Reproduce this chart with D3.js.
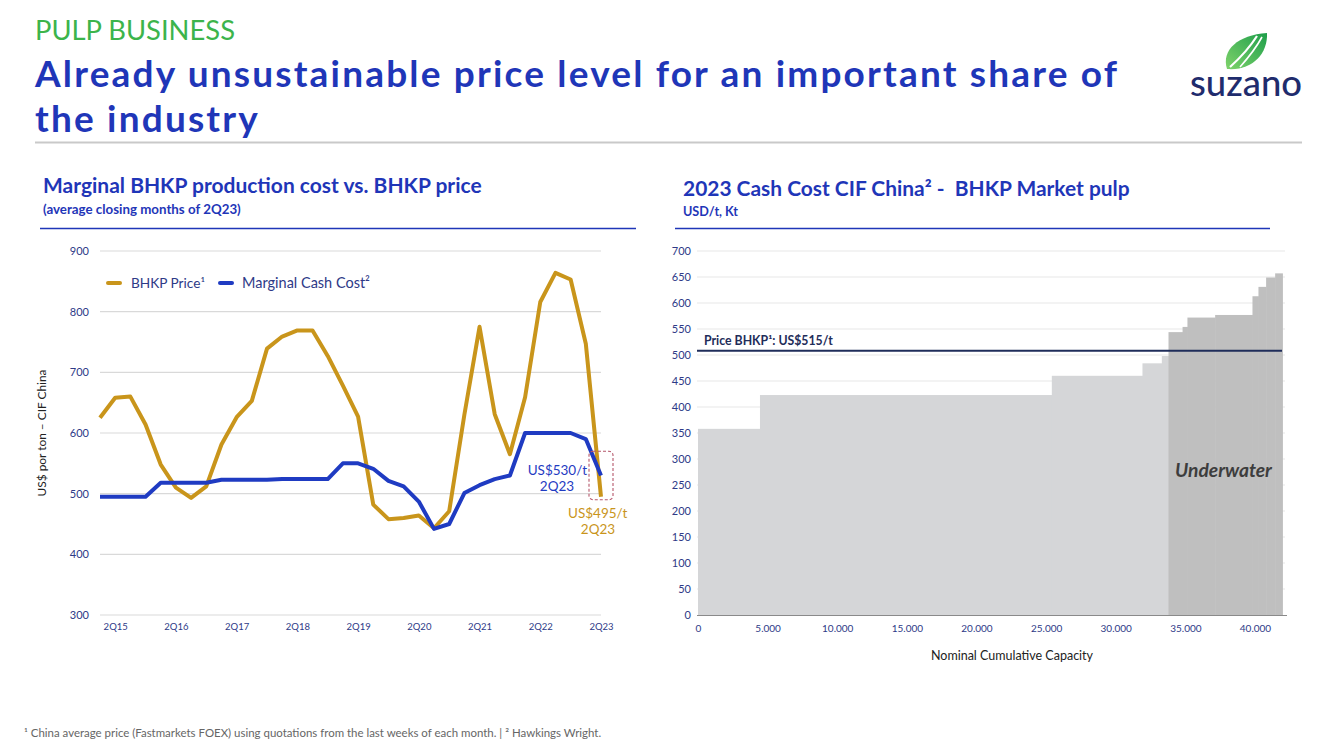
<!DOCTYPE html>
<html><head><meta charset="utf-8">
<script src="https://cdn.jsdelivr.net/npm/d3@7"></script>
<style>body{margin:0;background:#fff;} svg{display:block;font-family:Lato,"Open Sans",sans-serif;}</style>
</head><body><svg id="c" width="1333" height="749"></svg>
<script>
// ---------- DATA ----------
const quarters = ["1Q15","2Q15","3Q15","4Q15","1Q16","2Q16","3Q16","4Q16","1Q17","2Q17","3Q17","4Q17",
  "1Q18","2Q18","3Q18","4Q18","1Q19","2Q19","3Q19","4Q19","1Q20","2Q20","3Q20","4Q20",
  "1Q21","2Q21","3Q21","4Q21","1Q22","2Q22","3Q22","4Q22","1Q23","2Q23"];
const bhkpPrice = [625,658,660,614,548,510,493,512,581,626,653,739,759,769,769,727,678,627,
  482,458,460,464,443,471,630,775,631,565,659,816,864,853,747,495];
const marginalCashCost = [495,495,495,495,518,518,518,518,523,523,523,523,524,524,524,524,550,550,
  541,521,512,487,442,450,501,514,524,530,600,600,600,600,590,530];
const leftXTicks = ["2Q15","2Q16","2Q17","2Q18","2Q19","2Q20","2Q21","2Q22","2Q23"];
const leftYTicks = [300,400,500,600,700,800,900];

const capacityEnd = [4450,25410,31920,33310,33790,34800,35150,37140,39820,40250,40800,41450,41970];
const cashCost =    [358, 423,  460,  484,  498,  544,  554,  572,  577,  613,  631,  649,  657];
const priceBHKPLine = 508;
const rightYTicks = [0,50,100,150,200,250,300,350,400,450,500,550,600,650,700];
const rightXTicks = [0,5000,10000,15000,20000,25000,30000,35000,40000];

// ---------- COLORS ----------
const GOLD = "#c9951b", BLUE = "#1f3bc2", NAVY = "#2e3a87", TITLE = "#1f36b8";

const svg = d3.select("#c");
function fit(t, w){ const l = t.node().getComputedTextLength(); const fs = parseFloat(t.attr("font-size")); t.attr("font-size", fs*w/l); return t; }

// ---------- HEADER ----------
fit(svg.append("text").attr("x",35).attr("y",40).attr("font-size",24).attr("font-weight",400)
  .attr("fill","#3cb44b").text("PULP BUSINESS"),200);
const headLine1 = "Already unsustainable price level for an important share of";
const h1 = svg.append("text").attr("x",35).attr("y",87).attr("font-size",37).attr("font-weight",700)
  .attr("fill",TITLE).text(headLine1);
const ls = (1082 - h1.node().getComputedTextLength())/(headLine1.length-1);
h1.attr("letter-spacing",ls);
svg.append("text").attr("x",35).attr("y",132).attr("font-size",37).attr("font-weight",700)
  .attr("fill",TITLE).attr("letter-spacing",ls).text("the industry");
svg.append("line").attr("x1",35).attr("x2",1302).attr("y1",142.5).attr("y2",142.5)
  .attr("stroke","#c9c9c9").attr("stroke-width",2);

// logo
const defs = svg.append("defs");
const lg = defs.append("linearGradient").attr("id","leaf").attr("x1","0").attr("y1","1").attr("x2","1").attr("y2","0");
lg.append("stop").attr("offset","0").attr("stop-color","#7fd36b");
lg.append("stop").attr("offset","1").attr("stop-color","#1e9e4a");
svg.append("path").attr("d","M1227,69 C1221,50 1238,35 1267,33 C1268,54 1252,71 1227,69 Z").attr("fill","url(#leaf)");
svg.append("path").attr("d","M1230,67 C1240,58 1250,47 1257,36").attr("stroke","#fff").attr("stroke-width",2.2).attr("fill","none");
svg.append("path").attr("d","M1240,67 C1248,58 1256,48 1262,37").attr("stroke","#fff").attr("stroke-width",1.6).attr("fill","none");
fit(svg.append("text").attr("x",1190).attr("y",96).attr("font-size",28).attr("font-weight",500)
  .attr("fill","#1f2c6d").text("suzano"),112);

// ---------- LEFT CHART ----------
fit(svg.append("text").attr("x",43).attr("y",193).attr("font-size",18).attr("font-weight",700)
  .attr("fill",TITLE).text("Marginal BHKP production cost vs. BHKP price"),439);
fit(svg.append("text").attr("x",43).attr("y",214).attr("font-size",11).attr("font-weight",700)
  .attr("fill",TITLE).text("(average closing months of 2Q23)"),198);
svg.append("line").attr("x1",40).attr("x2",636).attr("y1",228.5).attr("y2",228.5).attr("stroke",TITLE).attr("stroke-width",1.5);

const xL = d3.scalePoint(quarters,[100,601]);
const yL = d3.scaleLinear([300,900],[615,251]);

const gL = svg.append("g");
gL.selectAll(".gl").data(leftYTicks).join("line")
  .attr("x1",100).attr("x2",601).attr("y1",d=>yL(d)).attr("y2",d=>yL(d))
  .attr("stroke","#d9d9d9").attr("stroke-width",1.2);
const axL = svg.append("g").attr("transform","translate(100,0)")
  .call(d3.axisLeft(yL).tickValues(leftYTicks).tickSize(0).tickPadding(11));
axL.select(".domain").remove();
axL.selectAll("text").attr("font-size",11).attr("fill",NAVY).attr("font-family","Lato");
const axLB = svg.append("g").attr("transform","translate(0,615)")
  .call(d3.axisBottom(xL).tickValues(leftXTicks).tickSize(0).tickPadding(8));
axLB.select(".domain").remove();
axLB.selectAll("text").attr("font-size",9.5).attr("fill",NAVY).attr("font-family","Lato");

fit(svg.append("text").attr("transform","translate(46,433) rotate(-90)").attr("text-anchor","middle")
  .attr("font-size",12).attr("fill","#222").text("US$ por ton – CIF China"),127);

const line = d3.line().x((d,i)=>xL(quarters[i])).y(d=>yL(d));
gL.append("path").datum(bhkpPrice).attr("d",line).attr("fill","none").attr("stroke",GOLD)
  .attr("stroke-width",4).attr("stroke-linejoin","round");
gL.append("path").datum(marginalCashCost).attr("d",line).attr("fill","none").attr("stroke",BLUE)
  .attr("stroke-width",4).attr("stroke-linejoin","round");

// legend
svg.append("line").attr("x1",108).attr("x2",120).attr("y1",283).attr("y2",283).attr("stroke",GOLD).attr("stroke-width",4).attr("stroke-linecap","round");
fit(svg.append("text").attr("x",131).attr("y",288).attr("font-size",13).attr("fill",NAVY).text("BHKP Price¹"),74);
svg.append("line").attr("x1",220).attr("x2",232).attr("y1",283).attr("y2",283).attr("stroke",BLUE).attr("stroke-width",4).attr("stroke-linecap","round");
fit(svg.append("text").attr("x",242).attr("y",288).attr("font-size",13).attr("fill",NAVY).text("Marginal Cash Cost²"),128);

// annotations
const lastX = xL(quarters[quarters.length-1]);
svg.append("rect").attr("x",lastX-12).attr("y",yL(570)).attr("width",24).attr("height",yL(490)-yL(570))
  .attr("rx",4).attr("fill","none").attr("stroke","#b5576b").attr("stroke-width",1.1).attr("stroke-dasharray","3,2");
svg.append("text").attr("x",lastX-14).attr("y",475).attr("text-anchor","end").attr("font-size",13.5).attr("fill",BLUE).text("US$530/t");
svg.append("text").attr("x",lastX-44).attr("y",491).attr("text-anchor","middle").attr("font-size",13.5).attr("fill",BLUE).text("2Q23");
svg.append("text").attr("x",lastX-33).attr("y",518).attr("font-size",13.5).attr("fill",GOLD).text("US$495/t");
svg.append("text").attr("x",lastX-3).attr("y",534).attr("text-anchor","middle").attr("font-size",13.5).attr("fill",GOLD).text("2Q23");

// ---------- RIGHT CHART ----------
fit(svg.append("text").attr("x",683).attr("y",196).attr("font-size",18).attr("font-weight",700)
  .attr("fill",TITLE).style("white-space","pre").text("2023 Cash Cost CIF China² -  BHKP Market pulp"),447);
fit(svg.append("text").attr("x",683).attr("y",216).attr("font-size",11).attr("font-weight",700)
  .attr("fill",TITLE).text("USD/t, Kt"),55);
svg.append("line").attr("x1",675).attr("x2",1270).attr("y1",228.5).attr("y2",228.5).attr("stroke",TITLE).attr("stroke-width",1.5);

const xR = d3.scaleLinear([0,42300],[698,1287]);
const yR = d3.scaleLinear([0,700],[615,251]);
const loc = d3.formatLocale({decimal:",",thousands:".",grouping:[3],currency:["",""]});
const fmt = loc.format(",");

svg.append("g").selectAll("line").data(rightYTicks.slice(1)).join("line")
  .attr("x1",697).attr("x2",1285).attr("y1",d=>yR(d)).attr("y2",d=>yR(d))
  .attr("stroke","#efefef").attr("stroke-width",1.5);

const steps = capacityEnd.map((e,i)=>({x0: i?capacityEnd[i-1]:0, x1:e, v:cashCost[i]}));
svg.append("g").selectAll("rect").data(steps).join("rect")
  .attr("x",d=>xR(d.x0)).attr("width",d=>xR(d.x1)-xR(d.x0)+0.5)
  .attr("y",d=>yR(d.v)).attr("height",d=>yR(0)-yR(d.v))
  .attr("fill",d=>d.v>priceBHKPLine?"#bfbfbf":"#d5d6d8");

svg.append("line").attr("x1",697).attr("x2",1287).attr("y1",615.5).attr("y2",615.5).attr("stroke","#8a8a8a").attr("stroke-width",1.2);

const axR = svg.append("g").attr("transform","translate(697,0)")
  .call(d3.axisLeft(yR).tickValues(rightYTicks).tickSize(0).tickPadding(6));
axR.select(".domain").remove();
axR.selectAll("text").attr("font-size",11).attr("fill",NAVY).attr("font-family","Lato");
const axRB = svg.append("g").attr("transform","translate(0,615)")
  .call(d3.axisBottom(xR).tickValues(rightXTicks).tickFormat(fmt).tickSize(0).tickPadding(10));
axRB.select(".domain").remove();
axRB.selectAll("text").attr("font-size",10).attr("fill",NAVY).attr("font-family","Lato");

svg.append("line").attr("x1",697).attr("x2",1282).attr("y1",yR(priceBHKPLine)).attr("y2",yR(priceBHKPLine))
  .attr("stroke","#1f2d5a").attr("stroke-width",2);
fit(svg.append("text").attr("x",704).attr("y",345).attr("font-size",11).attr("font-weight",700)
  .attr("fill","#1f2d5a").text("Price BHKP¹: US$515/t"),129);
fit(svg.append("text").attr("x",1175).attr("y",477).attr("font-size",15).attr("font-weight",700).attr("font-style","italic")
  .attr("fill","#3d3d3d").text("Underwater"),97);
svg.append("text").attr("x",1012).attr("y",660).attr("text-anchor","middle").attr("font-size",12.5)
  .attr("fill","#222").text("Nominal Cumulative Capacity");

// footnote
fit(svg.append("text").attr("x",24).attr("y",737).attr("font-size",10).attr("fill","#666")
  .text("¹ China average price (Fastmarkets FOEX) using quotations from the last weeks of each month. | ² Hawkings Wright."),578);
</script></body></html>
